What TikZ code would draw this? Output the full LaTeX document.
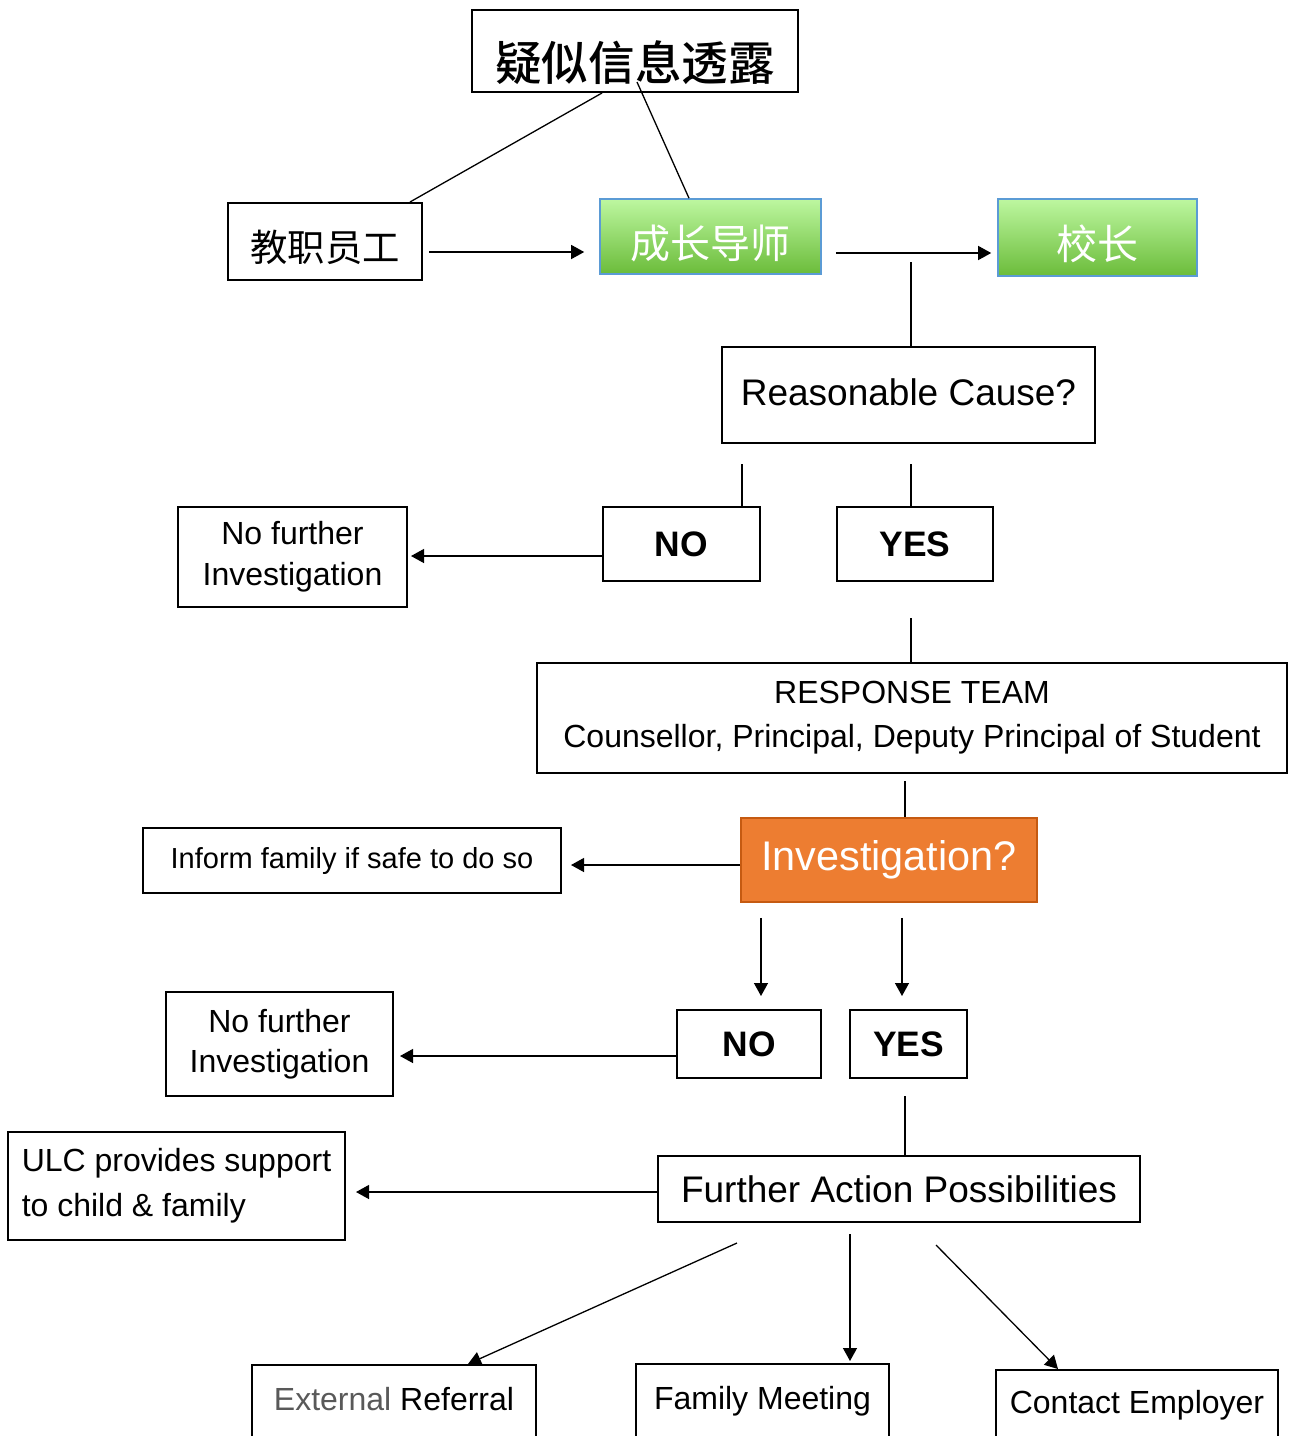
\documentclass[tikz,border=0pt]{standalone}
\usepackage{fontspec}
\setmainfont{Liberation Sans}
\newfontfamily\cjk{Noto Sans CJK SC}
\newfontfamily\cjkmid{Noto Sans CJK SC}[UprightFont={* Medium}]
\usetikzlibrary{arrows.meta}

\definecolor{leafTop}{RGB}{189,247,160}
\definecolor{leafBot}{RGB}{107,188,58}
\definecolor{leafEdge}{RGB}{91,155,213}
\definecolor{flame}{RGB}{237,125,49}
\definecolor{flameEdge}{RGB}{197,90,17}
\definecolor{extgrey}{RGB}{89,89,89}

\begin{document}
\begin{tikzpicture}[x=0.5pt, y=-0.5pt,
    box/.style={draw, line width=1pt, inner sep=2pt, align=center},
    greenbox/.style={box, line width=0.8pt, draw=leafEdge, top color=leafTop, bottom color=leafBot, text=white},
    orangebox/.style={box, line width=0.8pt, draw=flameEdge, fill=flame, text=white},
    openbox/.style={box, anchor=base, inner ysep=0pt, text depth=40pt},
    txt/.style={font=\fontsize{16}{20.5}\selectfont},
    yesno/.style={font=\bfseries\fontsize{17.7}{21}\selectfont},
    link/.style={line width=0.65pt},
    arrow/.style={link, -{Triangle[length=6.5pt,width=7pt]}}]

	\useasboundingbox (0,0) rectangle (1292,1436);
	\clip (0,0) rectangle (1292,1436);

	% Node definitions.
	\node[box, minimum width=163pt, minimum height=41pt, text height=29pt, text depth=0pt,
	      font=\cjkmid\fontsize{23.3}{27}\selectfont] (leak) at (635,51) {疑似信息透露};
	\node[box, minimum width=97pt, minimum height=38.5pt, text height=19.7pt, text depth=0pt,
	      font=\cjk\fontsize{18.7}{22}\selectfont] (staff) at (325,241.5) {教职员工};
	\node[greenbox, minimum width=110.5pt, minimum height=37.5pt, text height=22.2pt, text depth=0pt,
	      font=\cjk\fontsize{20}{24}\selectfont] (mentor) at (710.5,236.5) {成长导师};
	\node[greenbox, minimum width=99.5pt, minimum height=38.5pt, text height=22.1pt, text depth=0pt,
	      font=\cjk\fontsize{20.5}{24}\selectfont] (head) at (1097.5,237.5) {校长};

	\node[box, minimum width=186.5pt, minimum height=48pt, text height=10.3pt, text depth=0pt,
	      font=\fontsize{18.5}{22}\selectfont] (reason) at (908.5,395) {Reasonable Cause?};
	\node[box, yesno, minimum width=78.5pt, minimum height=37pt] (no1) at (681.5,544) {NO};
	\node[box, yesno, minimum width=78pt, minimum height=37pt] (yes1) at (915,544) {YES};
	\node[box, txt, minimum width=114.5pt, minimum height=50pt] (nfi1) at (292.5,557) {No further\\Investigation};

	\node[box, minimum width=375pt, minimum height=55pt, font=\fontsize{16}{22}\selectfont]
	      (team) at (912,718) {RESPONSE TEAM\\Counsellor, Principal, Deputy Principal of Student};
	\node[orangebox, minimum width=148pt, minimum height=42pt, font=\fontsize{20.7}{25}\selectfont]
	      (invest) at (889,860) {Investigation?};
	\node[box, minimum width=209pt, minimum height=32.5pt, font=\fontsize{14.5}{18}\selectfont]
	      (inform) at (352,860.5) {Inform family if safe to do so};

	\node[box, yesno, minimum width=72pt, minimum height=34pt] (no2) at (749,1044) {NO};
	\node[box, yesno, minimum width=58.5pt, minimum height=34pt] (yes2) at (908.5,1044) {YES};
	\node[box, minimum width=113.5pt, minimum height=52pt, font=\fontsize{16}{20}\selectfont]
	      (nfi2) at (279.5,1044) {No further\\Investigation};

	\node[box, minimum width=241pt, minimum height=33pt, font=\fontsize{18.5}{22}\selectfont]
	      (further) at (899,1189) {Further Action Possibilities};
	\node[box, align=left, minimum width=168.5pt, minimum height=54pt, font=\fontsize{16}{22.5}\selectfont]
	      (ulc) at (176.5,1186) {ULC provides support\\to child \& family};

	\node[openbox, txt, minimum width=142pt, text height=22.5pt] (ext) at (394,1410)
	      {\textcolor{extgrey}{External} Referral};
	\node[openbox, txt, minimum width=126.5pt, text height=22.5pt] (family) at (762.5,1409) {Family Meeting};
	\node[openbox, txt, minimum width=141pt, text height=21.5pt] (contact) at (1137,1413) {Contact Employer};

	% Free ends.
	\coordinate (leakin) at (637,82);
	\coordinate (split) at (911,262);
	\coordinate (fanL) at (737,1243);
	\coordinate (fanR) at (936,1245);

	% Lines and arrows.
	\draw[link] (leak.south -| 602,0) -- (staff.north -| 410,0);
	\draw[link] (leakin) -- (mentor.north -| 689,0);
	\draw[arrow, shorten <=3pt, shorten >=7.5pt] (staff.east |- 0,252) -- (mentor.west |- 0,252);
	\draw[arrow, shorten <=7pt, shorten >=3pt] (mentor.east |- 0,253) -- (head.west |- 0,253);
	\draw[link] (split) -- (split |- reason.north);

	\draw[link, shorten <=10pt] (reason.south -| 742,0) -- (no1.north -| 742,0);
	\draw[link, shorten <=10pt] (reason.south -| 911,0) -- (yes1.north -| 911,0);
	\draw[arrow, shorten >=1.5pt] (no1.west |- 0,556) -- (nfi1.east |- 0,556);
	\draw[link, shorten <=18pt] (yes1.south -| 911,0) -- (team.north -| 911,0);

	\draw[link, shorten <=3.5pt] (team.south -| 905,0) -- (invest.north -| 905,0);
	\draw[arrow, shorten >=4.5pt] (invest.west |- 0,865) -- (inform.east |- 0,865);
	\draw[arrow, shorten <=7.5pt, shorten >=6.5pt] (invest.south -| 761,0) -- (no2.north -| 761,0);
	\draw[arrow, shorten <=7.5pt, shorten >=6.5pt] (invest.south -| 902,0) -- (yes2.north -| 902,0);

	\draw[arrow, shorten >=3pt] (no2.west |- 0,1056) -- (nfi2.east |- 0,1056);
	\draw[link, shorten <=8.5pt] (yes2.south -| 905,0) -- (further.north -| 905,0);
	\draw[arrow, shorten >=5pt] (further.west |- 0,1192) -- (ulc.east |- 0,1192);

	\draw[arrow] (fanL) -- (ext.north -| 468,0);
	\draw[arrow, shorten <=5.5pt, shorten >=1pt] (further.south -| 850,0) -- (family.north -| 850,0);
	\draw[arrow] (fanR) -- (contact.north -| 1058,0);

\end{tikzpicture}
\end{document}
